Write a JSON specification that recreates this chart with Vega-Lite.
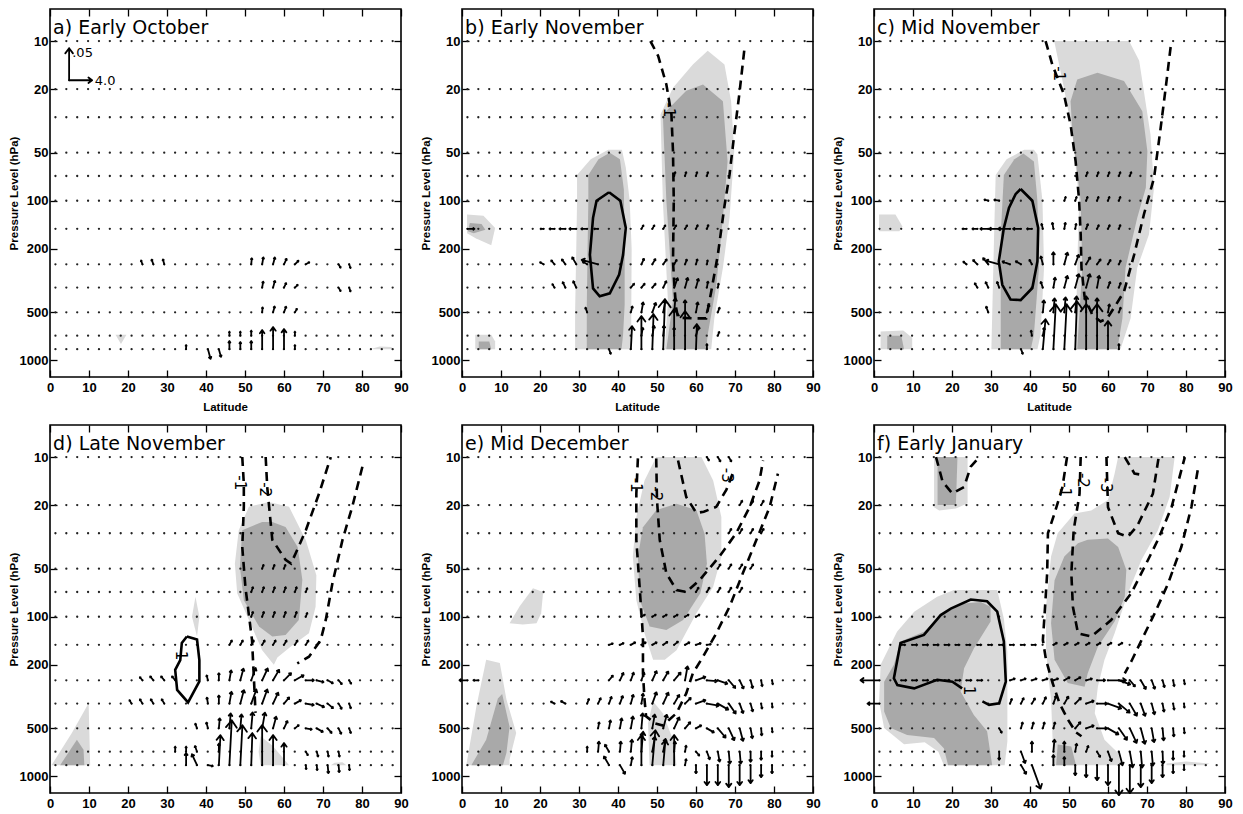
{
"$schema":"https://vega.github.io/schema/vega-lite/v6.json",
"padding":{"left":7,"top":7,"right":2,"bottom":0},
"bounds":"flush",
"spacing":{"row":48,"column":61},
"columns":3,
"data":{"values":[
{"p":"a","lev":10},{"p":"a","lev":20},{"p":"a","lev":30},{"p":"a","lev":50},{"p":"a","lev":70},{"p":"a","lev":100},{"p":"a","lev":150},{"p":"a","lev":250},{"p":"a","lev":350},{"p":"a","lev":500},{"p":"a","lev":700},{"p":"a","lev":850},
{"p":"b","lev":10},{"p":"b","lev":20},{"p":"b","lev":30},{"p":"b","lev":50},{"p":"b","lev":70},{"p":"b","lev":100},{"p":"b","lev":150},{"p":"b","lev":250},{"p":"b","lev":350},{"p":"b","lev":500},{"p":"b","lev":700},{"p":"b","lev":850},
{"p":"c","lev":10},{"p":"c","lev":20},{"p":"c","lev":30},{"p":"c","lev":50},{"p":"c","lev":70},{"p":"c","lev":100},{"p":"c","lev":150},{"p":"c","lev":250},{"p":"c","lev":350},{"p":"c","lev":500},{"p":"c","lev":700},{"p":"c","lev":850},
{"p":"d","lev":10},{"p":"d","lev":20},{"p":"d","lev":30},{"p":"d","lev":50},{"p":"d","lev":70},{"p":"d","lev":100},{"p":"d","lev":150},{"p":"d","lev":250},{"p":"d","lev":350},{"p":"d","lev":500},{"p":"d","lev":700},{"p":"d","lev":850},
{"p":"e","lev":10},{"p":"e","lev":20},{"p":"e","lev":30},{"p":"e","lev":50},{"p":"e","lev":70},{"p":"e","lev":100},{"p":"e","lev":150},{"p":"e","lev":250},{"p":"e","lev":350},{"p":"e","lev":500},{"p":"e","lev":700},{"p":"e","lev":850},
{"p":"f","lev":10},{"p":"f","lev":20},{"p":"f","lev":30},{"p":"f","lev":50},{"p":"f","lev":70},{"p":"f","lev":100},{"p":"f","lev":150},{"p":"f","lev":250},{"p":"f","lev":350},{"p":"f","lev":500},{"p":"f","lev":700},{"p":"f","lev":850},
{"p":"a","title":"a) Early October","x":0.8,"y":9},
{"p":"b","title":"b) Early November","x":0.8,"y":9},
{"p":"c","title":"c) Mid November","x":0.8,"y":9},
{"p":"d","title":"d) Late November","x":0.8,"y":9},
{"p":"e","title":"e) Mid December","x":0.8,"y":9},
{"p":"f","title":"f) Early January","x":0.8,"y":9},
{"p":"a","xl":"Latitude","x":45,"y":1985},
{"p":"b","xl":"Latitude","x":45,"y":1985},
{"p":"c","xl":"Latitude","x":45,"y":1985},
{"p":"a","note":".05","x":5.7,"y":12.6},
{"p":"a","note":"4.0","x":11.5,"y":18.9},
{"p":"b","clab":"-1","x":53,"y":27},
{"p":"c","clab":"-1","x":47.5,"y":16},
{"p":"d","clab":"1","x":33.5,"y":175},
{"p":"d","clab":"-1","x":48.8,"y":14.5},
{"p":"d","clab":"-2","x":55,"y":16},
{"p":"e","clab":"-1","x":44.5,"y":15},
{"p":"e","clab":"-2","x":49.8,"y":17},
{"p":"e","clab":"-3","x":68,"y":13},
{"p":"f","clab":"-1","x":49,"y":16},
{"p":"f","clab":"-2","x":53.5,"y":14},
{"p":"f","clab":"-3","x":59.6,"y":15},
{"p":"f","clab":"1","x":24.4,"y":290},
{"p":"a","g":"a1","s":"l","x":16.8,"y":690},{"p":"a","g":"a1","s":"l","x":19.6,"y":690},{"p":"a","g":"a1","s":"l","x":18.2,"y":790},
{"p":"a","g":"a2","s":"l","x":82.5,"y":845},{"p":"a","g":"a2","s":"l","x":84.5,"y":818},{"p":"a","g":"a2","s":"l","x":87.5,"y":825},{"p":"a","g":"a2","s":"l","x":88,"y":850},{"p":"a","g":"a2","s":"l","x":83,"y":850},
{"p":"b","g":"b1","s":"l","x":1.3,"y":122},{"p":"b","g":"b1","s":"l","x":5.5,"y":124},{"p":"b","g":"b1","s":"l","x":8.5,"y":148},{"p":"b","g":"b1","s":"l","x":7.5,"y":190},{"p":"b","g":"b1","s":"l","x":3.5,"y":172},{"p":"b","g":"b1","s":"l","x":1.3,"y":160},
{"p":"b","g":"b1d","s":"d","x":2,"y":138},{"p":"b","g":"b1d","s":"d","x":5,"y":140},{"p":"b","g":"b1d","s":"d","x":6,"y":152},{"p":"b","g":"b1d","s":"d","x":3,"y":160},{"p":"b","g":"b1d","s":"d","x":1.5,"y":155},
{"p":"b","g":"b2","s":"l","x":3.4,"y":690},{"p":"b","g":"b2","s":"l","x":7.5,"y":690},{"p":"b","g":"b2","s":"l","x":8.5,"y":760},{"p":"b","g":"b2","s":"l","x":8.5,"y":850},{"p":"b","g":"b2","s":"l","x":3.4,"y":850},
{"p":"b","g":"b2d","s":"d","x":4.3,"y":760},{"p":"b","g":"b2d","s":"d","x":7,"y":760},{"p":"b","g":"b2d","s":"d","x":7.5,"y":850},{"p":"b","g":"b2d","s":"d","x":4.3,"y":850},
{"p":"b","g":"b3","s":"l","x":29.5,"y":69},{"p":"b","g":"b3","s":"l","x":33,"y":55},{"p":"b","g":"b3","s":"l","x":37.5,"y":48},{"p":"b","g":"b3","s":"l","x":41,"y":48},{"p":"b","g":"b3","s":"l","x":42,"y":62},{"p":"b","g":"b3","s":"l","x":43,"y":100},{"p":"b","g":"b3","s":"l","x":43.5,"y":200},{"p":"b","g":"b3","s":"l","x":43.4,"y":500},{"p":"b","g":"b3","s":"l","x":43.4,"y":850},{"p":"b","g":"b3","s":"l","x":29,"y":850},{"p":"b","g":"b3","s":"l","x":29,"y":500},{"p":"b","g":"b3","s":"l","x":29.3,"y":200},{"p":"b","g":"b3","s":"l","x":29.5,"y":100},
{"p":"b","g":"b3d","s":"d","x":32.4,"y":69},{"p":"b","g":"b3d","s":"d","x":35,"y":55},{"p":"b","g":"b3d","s":"d","x":37.9,"y":50},{"p":"b","g":"b3d","s":"d","x":40.5,"y":55},{"p":"b","g":"b3d","s":"d","x":41.5,"y":85},{"p":"b","g":"b3d","s":"d","x":41.7,"y":200},{"p":"b","g":"b3d","s":"d","x":41.7,"y":450},{"p":"b","g":"b3d","s":"d","x":41.3,"y":690},{"p":"b","g":"b3d","s":"d","x":40.9,"y":850},{"p":"b","g":"b3d","s":"d","x":32,"y":850},{"p":"b","g":"b3d","s":"d","x":32,"y":450},{"p":"b","g":"b3d","s":"d","x":32.2,"y":200},{"p":"b","g":"b3d","s":"d","x":32.4,"y":100},
{"p":"b","g":"b4","s":"l","x":63,"y":11.5},{"p":"b","g":"b4","s":"l","x":67.3,"y":14},{"p":"b","g":"b4","s":"l","x":69,"y":23.8},{"p":"b","g":"b4","s":"l","x":69.8,"y":49},{"p":"b","g":"b4","s":"l","x":68.6,"y":128},{"p":"b","g":"b4","s":"l","x":66.9,"y":263},{"p":"b","g":"b4","s":"l","x":64.7,"y":545},{"p":"b","g":"b4","s":"l","x":63.9,"y":850},{"p":"b","g":"b4","s":"l","x":52,"y":850},{"p":"b","g":"b4","s":"l","x":52.8,"y":425},{"p":"b","g":"b4","s":"l","x":51.5,"y":100},{"p":"b","g":"b4","s":"l","x":50.9,"y":28.8},{"p":"b","g":"b4","s":"l","x":54.1,"y":19.6},{"p":"b","g":"b4","s":"l","x":59.2,"y":14},
{"p":"b","g":"b4d","s":"d","x":61.8,"y":18.7},{"p":"b","g":"b4d","s":"d","x":66.9,"y":23.8},{"p":"b","g":"b4d","s":"d","x":68.1,"y":56.7},{"p":"b","g":"b4d","s":"d","x":66.9,"y":128},{"p":"b","g":"b4d","s":"d","x":65.2,"y":339},{"p":"b","g":"b4d","s":"d","x":63,"y":690},{"p":"b","g":"b4d","s":"d","x":62.6,"y":850},{"p":"b","g":"b4d","s":"d","x":52.4,"y":850},{"p":"b","g":"b4d","s":"d","x":54.1,"y":425},{"p":"b","g":"b4d","s":"d","x":52.4,"y":100},{"p":"b","g":"b4d","s":"d","x":51.5,"y":28.8},{"p":"b","g":"b4d","s":"d","x":57.5,"y":20.5},
{"p":"c","g":"c1","s":"l","x":1.3,"y":122},{"p":"c","g":"c1","s":"l","x":5.5,"y":122},{"p":"c","g":"c1","s":"l","x":7.3,"y":145},{"p":"c","g":"c1","s":"l","x":6.5,"y":155},{"p":"c","g":"c1","s":"l","x":1.3,"y":155},
{"p":"c","g":"c2","s":"l","x":1.7,"y":660},{"p":"c","g":"c2","s":"l","x":7.5,"y":650},{"p":"c","g":"c2","s":"l","x":9.8,"y":720},{"p":"c","g":"c2","s":"l","x":9.8,"y":850},{"p":"c","g":"c2","s":"l","x":1.7,"y":850},
{"p":"c","g":"c2d","s":"d","x":3.4,"y":700},{"p":"c","g":"c2d","s":"d","x":7,"y":700},{"p":"c","g":"c2d","s":"d","x":7.7,"y":850},{"p":"c","g":"c2d","s":"d","x":3.4,"y":850},
{"p":"c","g":"c3","s":"l","x":31.2,"y":69},{"p":"c","g":"c3","s":"l","x":34,"y":55},{"p":"c","g":"c3","s":"l","x":38.5,"y":48},{"p":"c","g":"c3","s":"l","x":41,"y":48},{"p":"c","g":"c3","s":"l","x":41.9,"y":51.3},{"p":"c","g":"c3","s":"l","x":43.2,"y":100},{"p":"c","g":"c3","s":"l","x":43.6,"y":263},{"p":"c","g":"c3","s":"l","x":42.7,"y":690},{"p":"c","g":"c3","s":"l","x":41.9,"y":850},{"p":"c","g":"c3","s":"l","x":30.1,"y":850},{"p":"c","g":"c3","s":"l","x":30.8,"y":163},
{"p":"c","g":"c3d","s":"d","x":33.3,"y":69},{"p":"c","g":"c3d","s":"d","x":36,"y":55},{"p":"c","g":"c3d","s":"d","x":38.3,"y":50.6},{"p":"c","g":"c3d","s":"d","x":41,"y":56.7},{"p":"c","g":"c3d","s":"d","x":41.9,"y":100},{"p":"c","g":"c3d","s":"d","x":42.3,"y":263},{"p":"c","g":"c3d","s":"d","x":41,"y":690},{"p":"c","g":"c3d","s":"d","x":40.2,"y":850},{"p":"c","g":"c3d","s":"d","x":32.5,"y":850},{"p":"c","g":"c3d","s":"d","x":32.5,"y":163},
{"p":"c","g":"c4","s":"l","x":46.2,"y":10},{"p":"c","g":"c4","s":"l","x":65.4,"y":10},{"p":"c","g":"c4","s":"l","x":68,"y":13.3},{"p":"c","g":"c4","s":"l","x":70.9,"y":38.5},{"p":"c","g":"c4","s":"l","x":71.8,"y":83},{"p":"c","g":"c4","s":"l","x":70.5,"y":163},{"p":"c","g":"c4","s":"l","x":67.5,"y":263},{"p":"c","g":"c4","s":"l","x":65.8,"y":545},{"p":"c","g":"c4","s":"l","x":63.2,"y":850},{"p":"c","g":"c4","s":"l","x":51.7,"y":850},{"p":"c","g":"c4","s":"l","x":52.1,"y":263},{"p":"c","g":"c4","s":"l","x":52.6,"y":100},{"p":"c","g":"c4","s":"l","x":50.9,"y":38.5},{"p":"c","g":"c4","s":"l","x":48.7,"y":19.6},
{"p":"c","g":"c4d","s":"d","x":57.3,"y":15.8},{"p":"c","g":"c4d","s":"d","x":64.1,"y":17.8},{"p":"c","g":"c4d","s":"d","x":68.8,"y":27.5},{"p":"c","g":"c4d","s":"d","x":70.1,"y":49},{"p":"c","g":"c4d","s":"d","x":69.7,"y":83},{"p":"c","g":"c4d","s":"d","x":67.5,"y":128},{"p":"c","g":"c4d","s":"d","x":64.5,"y":263},{"p":"c","g":"c4d","s":"d","x":63.7,"y":545},{"p":"c","g":"c4d","s":"d","x":62.4,"y":850},{"p":"c","g":"c4d","s":"d","x":52.1,"y":850},{"p":"c","g":"c4d","s":"d","x":53.4,"y":263},{"p":"c","g":"c4d","s":"d","x":53,"y":100},{"p":"c","g":"c4d","s":"d","x":50.9,"y":38.5},{"p":"c","g":"c4d","s":"d","x":50.4,"y":23.8},{"p":"c","g":"c4d","s":"d","x":52.1,"y":17.4},
{"p":"d","g":"d1","s":"l","x":0.4,"y":850},{"p":"d","g":"d1","s":"l","x":5.6,"y":535},{"p":"d","g":"d1","s":"l","x":9.9,"y":348},{"p":"d","g":"d1","s":"l","x":10.3,"y":850},
{"p":"d","g":"d1d","s":"d","x":2.6,"y":850},{"p":"d","g":"d1d","s":"d","x":6.9,"y":590},{"p":"d","g":"d1d","s":"d","x":8.6,"y":680},{"p":"d","g":"d1d","s":"d","x":8.8,"y":850},
{"p":"d","g":"d2","s":"l","x":37.3,"y":75},{"p":"d","g":"d2","s":"l","x":38.3,"y":100},{"p":"d","g":"d2","s":"l","x":37.7,"y":133},{"p":"d","g":"d2","s":"l","x":36.4,"y":100},
{"p":"d","g":"d3","s":"l","x":56.1,"y":19.1},{"p":"d","g":"d3","s":"l","x":61.3,"y":20.5},{"p":"d","g":"d3","s":"l","x":65.6,"y":33.2},{"p":"d","g":"d3","s":"l","x":68.3,"y":55},{"p":"d","g":"d3","s":"l","x":68.1,"y":86.6},{"p":"d","g":"d3","s":"l","x":66.4,"y":127},{"p":"d","g":"d3","s":"l","x":62,"y":152},{"p":"d","g":"d3","s":"l","x":58.3,"y":180},{"p":"d","g":"d3","s":"l","x":57.4,"y":200},{"p":"d","g":"d3","s":"l","x":54.4,"y":162},{"p":"d","g":"d3","s":"l","x":51,"y":105},{"p":"d","g":"d3","s":"l","x":48,"y":71.4},{"p":"d","g":"d3","s":"l","x":47.4,"y":46.5},{"p":"d","g":"d3","s":"l","x":48.4,"y":28.7},{"p":"d","g":"d3","s":"l","x":51,"y":20.5},
{"p":"d","g":"d3d","s":"d","x":54.4,"y":25.5},{"p":"d","g":"d3d","s":"d","x":57,"y":25.5},{"p":"d","g":"d3d","s":"d","x":60.4,"y":27.4},{"p":"d","g":"d3d","s":"d","x":63.5,"y":36.6},{"p":"d","g":"d3d","s":"d","x":64.7,"y":58.7},{"p":"d","g":"d3d","s":"d","x":63.8,"y":105},{"p":"d","g":"d3d","s":"d","x":60.4,"y":130},{"p":"d","g":"d3d","s":"d","x":57,"y":133},{"p":"d","g":"d3d","s":"d","x":53.6,"y":115},{"p":"d","g":"d3d","s":"d","x":49.7,"y":78.8},{"p":"d","g":"d3d","s":"d","x":48.7,"y":48.8},{"p":"d","g":"d3d","s":"d","x":49.3,"y":28.7},
{"p":"d","g":"d4","s":"l","x":54,"y":560},{"p":"d","g":"d4","s":"l","x":57,"y":640},{"p":"d","g":"d4","s":"l","x":61.3,"y":850},{"p":"d","g":"d4","s":"l","x":54,"y":850},{"p":"d","g":"d4","s":"l","x":53.5,"y":700},
{"p":"d","g":"d5","s":"l","x":73,"y":820},{"p":"d","g":"d5","s":"l","x":75,"y":815},{"p":"d","g":"d5","s":"l","x":76,"y":850},{"p":"d","g":"d5","s":"l","x":72,"y":850},
{"p":"e","g":"e1","s":"l","x":12.2,"y":110},{"p":"e","g":"e1","s":"l","x":14.8,"y":86},{"p":"e","g":"e1","s":"l","x":18.2,"y":66.4},{"p":"e","g":"e1","s":"l","x":20.8,"y":70},{"p":"e","g":"e1","s":"l","x":20.3,"y":95},{"p":"e","g":"e1","s":"l","x":19.1,"y":110},{"p":"e","g":"e1","s":"l","x":15.6,"y":112},
{"p":"e","g":"e2","s":"l","x":1.1,"y":850},{"p":"e","g":"e2","s":"l","x":3.7,"y":363},{"p":"e","g":"e2","s":"l","x":6.2,"y":186},{"p":"e","g":"e2","s":"l","x":9.7,"y":195},{"p":"e","g":"e2","s":"l","x":11.4,"y":330},{"p":"e","g":"e2","s":"l","x":13.9,"y":534},{"p":"e","g":"e2","s":"l","x":12.2,"y":783},{"p":"e","g":"e2","s":"l","x":12.2,"y":850},
{"p":"e","g":"e2d","s":"d","x":2.4,"y":850},{"p":"e","g":"e2d","s":"d","x":6.2,"y":590},{"p":"e","g":"e2d","s":"d","x":9.2,"y":325},{"p":"e","g":"e2d","s":"d","x":10.3,"y":305},{"p":"e","g":"e2d","s":"d","x":12.2,"y":488},{"p":"e","g":"e2d","s":"d","x":11.4,"y":712},{"p":"e","g":"e2d","s":"d","x":10.5,"y":850},
{"p":"e","g":"e3","s":"l","x":49.8,"y":10},{"p":"e","g":"e3","s":"l","x":61.4,"y":10},{"p":"e","g":"e3","s":"l","x":64.4,"y":14},{"p":"e","g":"e3","s":"l","x":66.5,"y":23.7},{"p":"e","g":"e3","s":"l","x":66.5,"y":42},{"p":"e","g":"e3","s":"l","x":64.4,"y":65},{"p":"e","g":"e3","s":"l","x":60.1,"y":95},{"p":"e","g":"e3","s":"l","x":55,"y":162},{"p":"e","g":"e3","s":"l","x":52,"y":186},{"p":"e","g":"e3","s":"l","x":49,"y":186},{"p":"e","g":"e3","s":"l","x":46.8,"y":127},{"p":"e","g":"e3","s":"l","x":44.7,"y":78.8},{"p":"e","g":"e3","s":"l","x":43.8,"y":42},{"p":"e","g":"e3","s":"l","x":44.7,"y":23.7},{"p":"e","g":"e3","s":"l","x":46.8,"y":14},
{"p":"e","g":"e3d","s":"d","x":55,"y":19.6},{"p":"e","g":"e3d","s":"d","x":60.1,"y":21.5},{"p":"e","g":"e3d","s":"d","x":62.2,"y":30.2},{"p":"e","g":"e3d","s":"d","x":62.8,"y":46.5},{"p":"e","g":"e3d","s":"d","x":61.1,"y":71.4},{"p":"e","g":"e3d","s":"d","x":56.7,"y":105},{"p":"e","g":"e3d","s":"d","x":52.4,"y":121},{"p":"e","g":"e3d","s":"d","x":48.1,"y":115},{"p":"e","g":"e3d","s":"d","x":45.6,"y":78.8},{"p":"e","g":"e3d","s":"d","x":45.1,"y":42},{"p":"e","g":"e3d","s":"d","x":46.4,"y":27.5},{"p":"e","g":"e3d","s":"d","x":49.8,"y":21.5},
{"p":"e","g":"e4","s":"l","x":48.1,"y":850},{"p":"e","g":"e4","s":"l","x":47.7,"y":464},{"p":"e","g":"e4","s":"l","x":49,"y":340},{"p":"e","g":"e4","s":"l","x":51.5,"y":402},{"p":"e","g":"e4","s":"l","x":54.1,"y":590},{"p":"e","g":"e4","s":"l","x":55,"y":850},
{"p":"f","g":"f1","s":"l","x":15.4,"y":10},{"p":"f","g":"f1","s":"l","x":24,"y":10},{"p":"f","g":"f1","s":"l","x":24,"y":19.5},{"p":"f","g":"f1","s":"l","x":21,"y":21},{"p":"f","g":"f1","s":"l","x":16.7,"y":21.6},{"p":"f","g":"f1","s":"l","x":15.4,"y":20.6},
{"p":"f","g":"f1d","s":"d","x":16.3,"y":10},{"p":"f","g":"f1d","s":"d","x":21.4,"y":10},{"p":"f","g":"f1d","s":"d","x":21,"y":20},{"p":"f","g":"f1d","s":"d","x":16.3,"y":20},
{"p":"f","g":"f2","s":"l","x":16.2,"y":75},{"p":"f","g":"f2","s":"l","x":20.5,"y":68},{"p":"f","g":"f2","s":"l","x":31.6,"y":68},{"p":"f","g":"f2","s":"l","x":33.3,"y":103},{"p":"f","g":"f2","s":"l","x":34.2,"y":166},{"p":"f","g":"f2","s":"l","x":34.2,"y":604},{"p":"f","g":"f2","s":"l","x":33.5,"y":850},{"p":"f","g":"f2","s":"l","x":17.9,"y":850},{"p":"f","g":"f2","s":"l","x":16.5,"y":700},{"p":"f","g":"f2","s":"l","x":13,"y":610},{"p":"f","g":"f2","s":"l","x":7.7,"y":629},{"p":"f","g":"f2","s":"l","x":2.6,"y":497},{"p":"f","g":"f2","s":"l","x":1.3,"y":339},{"p":"f","g":"f2","s":"l","x":1.7,"y":200},{"p":"f","g":"f2","s":"l","x":5.9,"y":124},{"p":"f","g":"f2","s":"l","x":10.3,"y":93},
{"p":"f","g":"f2d","s":"d","x":6.8,"y":143},{"p":"f","g":"f2d","s":"d","x":12.8,"y":124},{"p":"f","g":"f2d","s":"d","x":17.1,"y":97.6},{"p":"f","g":"f2d","s":"d","x":23.1,"y":82.6},{"p":"f","g":"f2d","s":"d","x":27.4,"y":80.8},{"p":"f","g":"f2d","s":"d","x":29.9,"y":86.6},{"p":"f","g":"f2d","s":"d","x":29.9,"y":107},{"p":"f","g":"f2d","s":"d","x":25.6,"y":158},{"p":"f","g":"f2d","s":"d","x":23.1,"y":210},{"p":"f","g":"f2d","s":"d","x":22.2,"y":294},{"p":"f","g":"f2d","s":"d","x":25.6,"y":412},{"p":"f","g":"f2d","s":"d","x":29,"y":522},{"p":"f","g":"f2d","s":"d","x":30.3,"y":850},{"p":"f","g":"f2d","s":"d","x":19,"y":850},{"p":"f","g":"f2d","s":"d","x":17.9,"y":667},{"p":"f","g":"f2d","s":"d","x":15.4,"y":575},{"p":"f","g":"f2d","s":"d","x":8.5,"y":550},{"p":"f","g":"f2d","s":"d","x":4.3,"y":497},{"p":"f","g":"f2d","s":"d","x":2.6,"y":392},{"p":"f","g":"f2d","s":"d","x":2.6,"y":255},{"p":"f","g":"f2d","s":"d","x":5.1,"y":200},
{"p":"f","g":"f3","s":"l","x":62.6,"y":10},{"p":"f","g":"f3","s":"l","x":77.1,"y":10},{"p":"f","g":"f3","s":"l","x":75.8,"y":17.8},{"p":"f","g":"f3","s":"l","x":72.8,"y":28.7},{"p":"f","g":"f3","s":"l","x":68.6,"y":44},{"p":"f","g":"f3","s":"l","x":65.1,"y":71.4},{"p":"f","g":"f3","s":"l","x":61.7,"y":127},{"p":"f","g":"f3","s":"l","x":59.1,"y":186},{"p":"f","g":"f3","s":"l","x":57.4,"y":274},{"p":"f","g":"f3","s":"l","x":56.6,"y":402},{"p":"f","g":"f3","s":"l","x":59.1,"y":590},{"p":"f","g":"f3","s":"l","x":62.6,"y":713},{"p":"f","g":"f3","s":"l","x":63.4,"y":850},{"p":"f","g":"f3","s":"l","x":45.8,"y":850},{"p":"f","g":"f3","s":"l","x":45.8,"y":590},{"p":"f","g":"f3","s":"l","x":45.4,"y":330},{"p":"f","g":"f3","s":"l","x":44.6,"y":226},{"p":"f","g":"f3","s":"l","x":44.1,"y":154},{"p":"f","g":"f3","s":"l","x":44.1,"y":86.6},{"p":"f","g":"f3","s":"l","x":45.4,"y":42},{"p":"f","g":"f3","s":"l","x":47.1,"y":30},{"p":"f","g":"f3","s":"l","x":51.4,"y":22.6},{"p":"f","g":"f3","s":"l","x":55.7,"y":21.6},{"p":"f","g":"f3","s":"l","x":60,"y":18.6},{"p":"f","g":"f3","s":"l","x":61.7,"y":12.7},
{"p":"f","g":"f3d","s":"d","x":52.3,"y":34.6},{"p":"f","g":"f3d","s":"d","x":54.8,"y":33},{"p":"f","g":"f3d","s":"d","x":60,"y":32.4},{"p":"f","g":"f3d","s":"d","x":62.6,"y":36.6},{"p":"f","g":"f3d","s":"d","x":64.7,"y":51},{"p":"f","g":"f3d","s":"d","x":64.3,"y":75},{"p":"f","g":"f3d","s":"d","x":61.7,"y":107},{"p":"f","g":"f3d","s":"d","x":57.4,"y":154},{"p":"f","g":"f3d","s":"d","x":54.8,"y":226},{"p":"f","g":"f3d","s":"d","x":54,"y":274},{"p":"f","g":"f3d","s":"d","x":49.7,"y":260},{"p":"f","g":"f3d","s":"d","x":46.3,"y":186},{"p":"f","g":"f3d","s":"d","x":45.4,"y":110},{"p":"f","g":"f3d","s":"d","x":46.3,"y":59},{"p":"f","g":"f3d","s":"d","x":48.8,"y":42},
{"p":"f","g":"f4d","s":"d","x":46.7,"y":850},{"p":"f","g":"f4d","s":"d","x":47.1,"y":630},{"p":"f","g":"f4d","s":"d","x":50.6,"y":650},{"p":"f","g":"f4d","s":"d","x":51.8,"y":850},
{"p":"f","g":"f5","s":"l","x":75,"y":830},{"p":"f","g":"f5","s":"l","x":80,"y":805},{"p":"f","g":"f5","s":"l","x":86,"y":830},{"p":"f","g":"f5","s":"l","x":85,"y":850},{"p":"f","g":"f5","s":"l","x":75,"y":850},
{"p":"b","g":"bS","c":"s","x":37.7,"y":88.5},{"p":"b","g":"bS","c":"s","x":40.6,"y":100},{"p":"b","g":"bS","c":"s","x":42,"y":148},{"p":"b","g":"bS","c":"s","x":41.3,"y":218},{"p":"b","g":"bS","c":"s","x":40.3,"y":290},{"p":"b","g":"bS","c":"s","x":37.9,"y":380},{"p":"b","g":"bS","c":"s","x":35.3,"y":397},{"p":"b","g":"bS","c":"s","x":33.6,"y":354},{"p":"b","g":"bS","c":"s","x":32.8,"y":218},{"p":"b","g":"bS","c":"s","x":33.6,"y":128},{"p":"b","g":"bS","c":"s","x":34.5,"y":100},{"p":"b","g":"bS","c":"s","x":37.7,"y":88.5},
{"p":"b","g":"bD","c":"d","x":48.3,"y":10},{"p":"b","g":"bD","c":"d","x":50.3,"y":12.4},{"p":"b","g":"bD","c":"d","x":52.4,"y":18.7},{"p":"b","g":"bD","c":"d","x":53.7,"y":28.8},{"p":"b","g":"bD","c":"d","x":54.1,"y":49},{"p":"b","g":"bD","c":"d","x":54.3,"y":100},{"p":"b","g":"bD","c":"d","x":54.1,"y":240},{"p":"b","g":"bD","c":"d","x":54.5,"y":352},{"p":"b","g":"bD","c":"d","x":54.9,"y":468},{"p":"b","g":"bD","c":"d","x":55.4,"y":540},{"p":"b","g":"bD","c":"d","x":59,"y":545},{"p":"b","g":"bD","c":"d","x":62.6,"y":545},{"p":"b","g":"bD","c":"d","x":63.9,"y":371},{"p":"b","g":"bD","c":"d","x":65.6,"y":218},{"p":"b","g":"bD","c":"d","x":67.3,"y":108},{"p":"b","g":"bD","c":"d","x":68.6,"y":68.5},{"p":"b","g":"bD","c":"d","x":69.8,"y":38.5},{"p":"b","g":"bD","c":"d","x":71.1,"y":21.6},{"p":"b","g":"bD","c":"d","x":72.4,"y":11.3},
{"p":"c","g":"cS","c":"s","x":37.6,"y":84.4},{"p":"c","g":"cS","c":"s","x":40.6,"y":100},{"p":"c","g":"cS","c":"s","x":42.1,"y":148},{"p":"c","g":"cS","c":"s","x":41.9,"y":240},{"p":"c","g":"cS","c":"s","x":40.6,"y":352},{"p":"c","g":"cS","c":"s","x":37.6,"y":419},{"p":"c","g":"cS","c":"s","x":35,"y":415},{"p":"c","g":"cS","c":"s","x":32.9,"y":336},{"p":"c","g":"cS","c":"s","x":32,"y":240},{"p":"c","g":"cS","c":"s","x":33.3,"y":148},{"p":"c","g":"cS","c":"s","x":34.6,"y":111},{"p":"c","g":"cS","c":"s","x":36.3,"y":91},{"p":"c","g":"cS","c":"s","x":37.6,"y":84.4},
{"p":"c","g":"cD","c":"d","x":44,"y":10},{"p":"c","g":"cD","c":"d","x":45.7,"y":14},{"p":"c","g":"cD","c":"d","x":48.7,"y":21.6},{"p":"c","g":"cD","c":"d","x":50.4,"y":33.3},{"p":"c","g":"cD","c":"d","x":51.7,"y":56.7},{"p":"c","g":"cD","c":"d","x":52.6,"y":100},{"p":"c","g":"cD","c":"d","x":53,"y":163},{"p":"c","g":"cD","c":"d","x":53.2,"y":263},{"p":"c","g":"cD","c":"d","x":54,"y":400},{"p":"c","g":"cD","c":"d","x":56,"y":520},{"p":"c","g":"cD","c":"d","x":58.1,"y":570},{"p":"c","g":"cD","c":"d","x":59.8,"y":545},{"p":"c","g":"cD","c":"d","x":62,"y":450},{"p":"c","g":"cD","c":"d","x":64.1,"y":371},{"p":"c","g":"cD","c":"d","x":66.7,"y":218},{"p":"c","g":"cD","c":"d","x":69.2,"y":122},{"p":"c","g":"cD","c":"d","x":71.8,"y":72},{"p":"c","g":"cD","c":"d","x":73.5,"y":35},{"p":"c","g":"cD","c":"d","x":74.8,"y":19.6},{"p":"c","g":"cD","c":"d","x":76.1,"y":10.7},
{"p":"d","g":"dS","c":"s","x":35.1,"y":133},{"p":"d","g":"dS","c":"s","x":37.7,"y":139},{"p":"d","g":"dS","c":"s","x":38.3,"y":187},{"p":"d","g":"dS","c":"s","x":38.3,"y":254},{"p":"d","g":"dS","c":"s","x":35.4,"y":344},{"p":"d","g":"dS","c":"s","x":32.6,"y":287},{"p":"d","g":"dS","c":"s","x":32.1,"y":215},{"p":"d","g":"dS","c":"s","x":33.4,"y":187},{"p":"d","g":"dS","c":"s","x":33.8,"y":146},{"p":"d","g":"dS","c":"s","x":35.1,"y":133},
{"p":"d","g":"dD1","c":"d","x":49.3,"y":10},{"p":"d","g":"dD1","c":"d","x":49.7,"y":14.7},{"p":"d","g":"dD1","c":"d","x":49.7,"y":20.5},{"p":"d","g":"dD1","c":"d","x":49.3,"y":36.6},{"p":"d","g":"dD1","c":"d","x":50.1,"y":65},{"p":"d","g":"dD1","c":"d","x":51.8,"y":140},{"p":"d","g":"dD1","c":"d","x":52.3,"y":248},{"p":"d","g":"dD1","c":"d","x":52.7,"y":400},
{"p":"d","g":"dD2","c":"d","x":55.3,"y":10},{"p":"d","g":"dD2","c":"d","x":55.7,"y":15.4},{"p":"d","g":"dD2","c":"d","x":57,"y":33},{"p":"d","g":"dD2","c":"d","x":60.4,"y":44},{"p":"d","g":"dD2","c":"d","x":61.8,"y":46.5},{"p":"d","g":"dD2","c":"d","x":63,"y":40},{"p":"d","g":"dD2","c":"d","x":65.6,"y":28.7},{"p":"d","g":"dD2","c":"d","x":69,"y":16.9},{"p":"d","g":"dD2","c":"d","x":72,"y":10},
{"p":"d","g":"dD3","c":"d","x":80.1,"y":11.5},{"p":"d","g":"dD3","c":"d","x":77.5,"y":20.5},{"p":"d","g":"dD3","c":"d","x":75,"y":33},{"p":"d","g":"dD3","c":"d","x":72.4,"y":62},{"p":"d","g":"dD3","c":"d","x":70.7,"y":105},{"p":"d","g":"dD3","c":"d","x":69.4,"y":140},{"p":"d","g":"dD3","c":"d","x":66.4,"y":178},{"p":"d","g":"dD3","c":"d","x":63.4,"y":196},
{"p":"e","g":"eD1","c":"d","x":45.1,"y":10.2},{"p":"e","g":"eD1","c":"d","x":44.7,"y":17},{"p":"e","g":"eD1","c":"d","x":44.7,"y":33},{"p":"e","g":"eD1","c":"d","x":45.6,"y":68},{"p":"e","g":"eD1","c":"d","x":46.4,"y":133},{"p":"e","g":"eD1","c":"d","x":46.4,"y":226},{"p":"e","g":"eD1","c":"d","x":46.8,"y":330},{"p":"e","g":"eD1","c":"d","x":47.2,"y":420},{"p":"e","g":"eD1","c":"d","x":49.4,"y":464},{"p":"e","g":"eD1","c":"d","x":51.5,"y":480},{"p":"e","g":"eD1","c":"d","x":53.2,"y":440},{"p":"e","g":"eD1","c":"d","x":55,"y":402},{"p":"e","g":"eD1","c":"d","x":57.5,"y":302},{"p":"e","g":"eD1","c":"d","x":59.2,"y":226},{"p":"e","g":"eD1","c":"d","x":61.8,"y":178},{"p":"e","g":"eD1","c":"d","x":65.2,"y":127},{"p":"e","g":"eD1","c":"d","x":68.6,"y":86.6},{"p":"e","g":"eD1","c":"d","x":72,"y":53.5},{"p":"e","g":"eD1","c":"d","x":75.5,"y":33},{"p":"e","g":"eD1","c":"d","x":78.9,"y":20.5},{"p":"e","g":"eD1","c":"d","x":81,"y":12.7},
{"p":"e","g":"eD2","c":"d","x":49.8,"y":10.2},{"p":"e","g":"eD2","c":"d","x":50,"y":18.6},{"p":"e","g":"eD2","c":"d","x":50.7,"y":33},{"p":"e","g":"eD2","c":"d","x":52.4,"y":53.5},{"p":"e","g":"eD2","c":"d","x":55,"y":68},{"p":"e","g":"eD2","c":"d","x":57.5,"y":70},{"p":"e","g":"eD2","c":"d","x":60.9,"y":59},{"p":"e","g":"eD2","c":"d","x":66,"y":42},{"p":"e","g":"eD2","c":"d","x":70.3,"y":30},{"p":"e","g":"eD2","c":"d","x":73.8,"y":20.5},{"p":"e","g":"eD2","c":"d","x":76.3,"y":14},{"p":"e","g":"eD2","c":"d","x":77.2,"y":10.5},
{"p":"e","g":"eD3","c":"d","x":55.4,"y":10.5},{"p":"e","g":"eD3","c":"d","x":57.5,"y":17.8},{"p":"e","g":"eD3","c":"d","x":60.1,"y":22.4},{"p":"e","g":"eD3","c":"d","x":62,"y":22},{"p":"e","g":"eD3","c":"d","x":65.2,"y":20.5},{"p":"e","g":"eD3","c":"d","x":67.8,"y":16},{"p":"e","g":"eD3","c":"d","x":69.9,"y":11.8},
{"p":"f","g":"fS","c":"s","x":22.6,"y":281},{"p":"f","g":"fS","c":"s","x":20.1,"y":255},{"p":"f","g":"fS","c":"s","x":16.2,"y":248},{"p":"f","g":"fS","c":"s","x":10.3,"y":281},{"p":"f","g":"fS","c":"s","x":6,"y":268},{"p":"f","g":"fS","c":"s","x":5.1,"y":243},{"p":"f","g":"fS","c":"s","x":6.8,"y":146},{"p":"f","g":"fS","c":"s","x":12.8,"y":130},{"p":"f","g":"fS","c":"s","x":17.1,"y":97.6},{"p":"f","g":"fS","c":"s","x":19.7,"y":89},{"p":"f","g":"fS","c":"s","x":24.8,"y":78},{"p":"f","g":"fS","c":"s","x":29,"y":80},{"p":"f","g":"fS","c":"s","x":31.6,"y":93},{"p":"f","g":"fS","c":"s","x":33.3,"y":143},{"p":"f","g":"fS","c":"s","x":33.8,"y":255},{"p":"f","g":"fS","c":"s","x":32.1,"y":348},{"p":"f","g":"fS","c":"s","x":29.5,"y":356},{"p":"f","g":"fS","c":"s","x":27.8,"y":339},
{"p":"f","g":"fD1","c":"d","x":15.9,"y":10},{"p":"f","g":"fD1","c":"d","x":17.6,"y":14.3},{"p":"f","g":"fD1","c":"d","x":20.1,"y":16.9},{"p":"f","g":"fD1","c":"d","x":23.1,"y":15.4},{"p":"f","g":"fD1","c":"d","x":24.8,"y":11.5},{"p":"f","g":"fD1","c":"d","x":27,"y":10},
{"p":"f","g":"fD2","c":"d","x":49.5,"y":10},{"p":"f","g":"fD2","c":"d","x":48.3,"y":15.5},{"p":"f","g":"fD2","c":"d","x":46.3,"y":22.5},{"p":"f","g":"fD2","c":"d","x":44.6,"y":30},{"p":"f","g":"fD2","c":"d","x":44.4,"y":53.5},{"p":"f","g":"fD2","c":"d","x":43.7,"y":100},{"p":"f","g":"fD2","c":"d","x":43.3,"y":140},{"p":"f","g":"fD2","c":"d","x":44.1,"y":186},{"p":"f","g":"fD2","c":"d","x":45.8,"y":260},{"p":"f","g":"fD2","c":"d","x":47.6,"y":350},{"p":"f","g":"fD2","c":"d","x":49.7,"y":440},{"p":"f","g":"fD2","c":"d","x":51.8,"y":530},{"p":"f","g":"fD2","c":"d","x":53.2,"y":560},
{"p":"f","g":"fD3","c":"d","x":83,"y":12.1},{"p":"f","g":"fD3","c":"d","x":81.4,"y":20.5},{"p":"f","g":"fD3","c":"d","x":78.8,"y":36.6},{"p":"f","g":"fD3","c":"d","x":75.4,"y":62},{"p":"f","g":"fD3","c":"d","x":72,"y":95},{"p":"f","g":"fD3","c":"d","x":68.6,"y":140},{"p":"f","g":"fD3","c":"d","x":66,"y":190},{"p":"f","g":"fD3","c":"d","x":64.3,"y":226},
{"p":"f","g":"fD4","c":"d","x":53,"y":10},{"p":"f","g":"fD4","c":"d","x":52.7,"y":17},{"p":"f","g":"fD4","c":"d","x":51.2,"y":28.7},{"p":"f","g":"fD4","c":"d","x":50.6,"y":53.5},{"p":"f","g":"fD4","c":"d","x":51,"y":86.6},{"p":"f","g":"fD4","c":"d","x":52.3,"y":127},{"p":"f","g":"fD4","c":"d","x":55.7,"y":133},{"p":"f","g":"fD4","c":"d","x":60.8,"y":105},{"p":"f","g":"fD4","c":"d","x":66,"y":71},{"p":"f","g":"fD4","c":"d","x":69.4,"y":48.6},{"p":"f","g":"fD4","c":"d","x":72.8,"y":33},{"p":"f","g":"fD4","c":"d","x":76.3,"y":20.6},{"p":"f","g":"fD4","c":"d","x":79.7,"y":10},
{"p":"f","g":"fD5","c":"d","x":59.6,"y":10},{"p":"f","g":"fD5","c":"d","x":60,"y":20.6},{"p":"f","g":"fD5","c":"d","x":62.6,"y":30},{"p":"f","g":"fD5","c":"d","x":65.1,"y":31.6},{"p":"f","g":"fD5","c":"d","x":67.5,"y":27},{"p":"f","g":"fD5","c":"d","x":71.5,"y":17},{"p":"f","g":"fD5","c":"d","x":73,"y":10},
{"p":"f","g":"fD6","c":"d","x":64.3,"y":10},{"p":"f","g":"fD6","c":"d","x":66.8,"y":12.7},{"p":"f","g":"fD6","c":"d","x":69.4,"y":13},
{"p":"a","x":4.9,"y":17.6,"a":0,"m":32},{"p":"a","x":4.9,"y":17.6,"a":90,"m":23},
{"p":"a","x":23.7,"y":250,"a":340,"m":4},{"p":"a","x":26.5,"y":250,"a":340,"m":5},{"p":"a","x":29.3,"y":250,"a":345,"m":5},{"p":"a","x":51.6,"y":250,"a":5,"m":6},{"p":"a","x":54.4,"y":250,"a":10,"m":7},{"p":"a","x":57.2,"y":250,"a":15,"m":7},{"p":"a","x":60,"y":250,"a":25,"m":6},{"p":"a","x":62.8,"y":250,"a":45,"m":5},{"p":"a","x":65.6,"y":250,"a":60,"m":4},{"p":"a","x":74,"y":250,"a":150,"m":4},{"p":"a","x":76.7,"y":250,"a":160,"m":4},
{"p":"a","x":54.4,"y":350,"a":10,"m":6},{"p":"a","x":57.2,"y":350,"a":15,"m":7},{"p":"a","x":60,"y":350,"a":25,"m":5},{"p":"a","x":62.8,"y":350,"a":45,"m":4},{"p":"a","x":74,"y":350,"a":150,"m":4},{"p":"a","x":76.7,"y":350,"a":160,"m":4},
{"p":"a","x":54.4,"y":500,"a":5,"m":5},{"p":"a","x":57.2,"y":500,"a":15,"m":6},{"p":"a","x":60,"y":500,"a":20,"m":6},{"p":"a","x":62.8,"y":500,"a":30,"m":4},
{"p":"a","x":46,"y":700,"a":0,"m":4},{"p":"a","x":48.8,"y":700,"a":0,"m":4},{"p":"a","x":51.6,"y":700,"a":0,"m":5},{"p":"a","x":62.8,"y":700,"a":0,"m":4},
{"p":"a","x":34.9,"y":850,"a":0,"m":4},{"p":"a","x":40.5,"y":850,"a":165,"m":10},{"p":"a","x":43.3,"y":850,"a":165,"m":8},{"p":"a","x":46,"y":850,"a":0,"m":8},{"p":"a","x":48.8,"y":850,"a":0,"m":7},{"p":"a","x":51.6,"y":850,"a":0,"m":8},{"p":"a","x":54.4,"y":850,"a":0,"m":19},{"p":"a","x":57.2,"y":850,"a":0,"m":22},{"p":"a","x":60,"y":850,"a":0,"m":20},{"p":"a","x":62.8,"y":850,"a":0,"m":4},
{"p":"b","x":1.4,"y":150,"a":90,"m":7},{"p":"b","x":20.9,"y":150,"a":270,"m":3},{"p":"b","x":23.7,"y":150,"a":270,"m":5},{"p":"b","x":26.5,"y":150,"a":270,"m":6},{"p":"b","x":29.3,"y":150,"a":270,"m":7},{"p":"b","x":32.1,"y":150,"a":270,"m":6},{"p":"b","x":34.9,"y":150,"a":270,"m":4},{"p":"b","x":46,"y":150,"a":30,"m":4},{"p":"b","x":48.8,"y":150,"a":30,"m":4},{"p":"b","x":51.6,"y":150,"a":30,"m":4},{"p":"b","x":54.4,"y":150,"a":30,"m":4},{"p":"b","x":57.2,"y":150,"a":30,"m":4},{"p":"b","x":60,"y":150,"a":25,"m":4},{"p":"b","x":62.8,"y":150,"a":20,"m":4},
{"p":"b","x":54.4,"y":70,"a":15,"m":4},{"p":"b","x":57.2,"y":70,"a":15,"m":4},{"p":"b","x":60,"y":70,"a":15,"m":4},{"p":"b","x":62.8,"y":70,"a":15,"m":4},
{"p":"b","x":20.9,"y":250,"a":300,"m":4},{"p":"b","x":23.7,"y":250,"a":320,"m":5},{"p":"b","x":26.5,"y":250,"a":325,"m":6},{"p":"b","x":29.3,"y":250,"a":330,"m":8},{"p":"b","x":32.1,"y":250,"a":300,"m":5},{"p":"b","x":34.9,"y":250,"a":285,"m":17},{"p":"b","x":46,"y":250,"a":25,"m":6},{"p":"b","x":48.8,"y":250,"a":30,"m":6},{"p":"b","x":51.6,"y":250,"a":35,"m":6},{"p":"b","x":54.4,"y":250,"a":30,"m":5},{"p":"b","x":57.2,"y":250,"a":20,"m":5},{"p":"b","x":60,"y":250,"a":15,"m":5},{"p":"b","x":62.8,"y":250,"a":10,"m":4},
{"p":"b","x":23.7,"y":350,"a":330,"m":4},{"p":"b","x":26.5,"y":350,"a":335,"m":6},{"p":"b","x":29.3,"y":350,"a":335,"m":7},{"p":"b","x":43.3,"y":350,"a":40,"m":5},{"p":"b","x":46,"y":350,"a":40,"m":5},{"p":"b","x":48.8,"y":350,"a":40,"m":5},{"p":"b","x":51.6,"y":350,"a":25,"m":7},{"p":"b","x":54.4,"y":350,"a":20,"m":10},{"p":"b","x":57.2,"y":350,"a":15,"m":10},{"p":"b","x":60,"y":350,"a":15,"m":9},{"p":"b","x":62.8,"y":350,"a":10,"m":6},{"p":"b","x":65.6,"y":350,"a":10,"m":4},
{"p":"b","x":32.1,"y":500,"a":340,"m":5},{"p":"b","x":43.3,"y":500,"a":15,"m":6},{"p":"b","x":46,"y":500,"a":10,"m":10},{"p":"b","x":48.8,"y":500,"a":20,"m":10},{"p":"b","x":51.6,"y":500,"a":10,"m":12},{"p":"b","x":54.4,"y":500,"a":5,"m":14},{"p":"b","x":57.2,"y":500,"a":0,"m":12},{"p":"b","x":60,"y":500,"a":10,"m":10},{"p":"b","x":62.8,"y":500,"a":15,"m":8},{"p":"b","x":65.6,"y":500,"a":20,"m":5},
{"p":"b","x":46,"y":700,"a":10,"m":8},{"p":"b","x":48.8,"y":700,"a":10,"m":10},{"p":"b","x":51.6,"y":700,"a":5,"m":10},{"p":"b","x":54.4,"y":700,"a":0,"m":8},{"p":"b","x":60,"y":700,"a":15,"m":8},{"p":"b","x":65.6,"y":700,"a":20,"m":4},
{"p":"b","x":37.7,"y":850,"a":160,"m":5},{"p":"b","x":43.3,"y":850,"a":3,"m":23},{"p":"b","x":46,"y":850,"a":0,"m":33},{"p":"b","x":48.8,"y":850,"a":2,"m":35},{"p":"b","x":51.6,"y":850,"a":2,"m":50},{"p":"b","x":54.4,"y":850,"a":0,"m":40},{"p":"b","x":57.2,"y":850,"a":0,"m":38},{"p":"b","x":60,"y":850,"a":2,"m":25},{"p":"b","x":62.8,"y":850,"a":0,"m":5},
{"p":"c","x":23.7,"y":150,"a":270,"m":4},{"p":"c","x":26.5,"y":150,"a":270,"m":5},{"p":"c","x":29.3,"y":150,"a":270,"m":8},{"p":"c","x":32.1,"y":150,"a":270,"m":10},{"p":"c","x":34.9,"y":150,"a":270,"m":12},{"p":"c","x":37.7,"y":150,"a":270,"m":8},{"p":"c","x":40.5,"y":150,"a":270,"m":5},{"p":"c","x":43.3,"y":150,"a":345,"m":5},{"p":"c","x":46,"y":150,"a":350,"m":6},{"p":"c","x":48.8,"y":150,"a":10,"m":6},{"p":"c","x":51.6,"y":150,"a":10,"m":5},{"p":"c","x":54.4,"y":150,"a":20,"m":5},{"p":"c","x":57.2,"y":150,"a":25,"m":4},{"p":"c","x":60,"y":150,"a":25,"m":4},{"p":"c","x":62.8,"y":150,"a":20,"m":4},
{"p":"c","x":29.3,"y":100,"a":285,"m":4},{"p":"c","x":32.1,"y":100,"a":280,"m":5},{"p":"c","x":48.8,"y":100,"a":20,"m":4},{"p":"c","x":51.6,"y":100,"a":20,"m":4},{"p":"c","x":54.4,"y":100,"a":20,"m":4},{"p":"c","x":57.2,"y":100,"a":20,"m":4},{"p":"c","x":60,"y":100,"a":20,"m":4},{"p":"c","x":62.8,"y":100,"a":20,"m":4},
{"p":"c","x":54.4,"y":70,"a":20,"m":4},{"p":"c","x":57.2,"y":70,"a":20,"m":4},{"p":"c","x":60,"y":70,"a":20,"m":4},{"p":"c","x":62.8,"y":70,"a":20,"m":4},{"p":"c","x":65.6,"y":70,"a":20,"m":4},
{"p":"c","x":23.7,"y":250,"a":310,"m":4},{"p":"c","x":26.5,"y":250,"a":315,"m":6},{"p":"c","x":29.3,"y":250,"a":320,"m":8},{"p":"c","x":32.1,"y":250,"a":285,"m":14},{"p":"c","x":34.9,"y":250,"a":290,"m":8},{"p":"c","x":37.7,"y":250,"a":300,"m":6},{"p":"c","x":40.5,"y":250,"a":330,"m":5},{"p":"c","x":43.3,"y":250,"a":345,"m":8},{"p":"c","x":46,"y":250,"a":0,"m":12},{"p":"c","x":48.8,"y":250,"a":15,"m":12},{"p":"c","x":51.6,"y":250,"a":20,"m":10},{"p":"c","x":54.4,"y":250,"a":30,"m":8},{"p":"c","x":57.2,"y":250,"a":35,"m":6},{"p":"c","x":60,"y":250,"a":30,"m":5},{"p":"c","x":62.8,"y":250,"a":25,"m":4},
{"p":"c","x":26.5,"y":350,"a":330,"m":5},{"p":"c","x":29.3,"y":350,"a":335,"m":6},{"p":"c","x":32.1,"y":350,"a":340,"m":6},{"p":"c","x":43.3,"y":350,"a":340,"m":6},{"p":"c","x":46,"y":350,"a":10,"m":10},{"p":"c","x":48.8,"y":350,"a":15,"m":12},{"p":"c","x":51.6,"y":350,"a":15,"m":14},{"p":"c","x":54.4,"y":350,"a":15,"m":14},{"p":"c","x":57.2,"y":350,"a":10,"m":12},{"p":"c","x":60,"y":350,"a":20,"m":6},{"p":"c","x":62.8,"y":350,"a":20,"m":5},
{"p":"c","x":29.3,"y":500,"a":340,"m":6},{"p":"c","x":43.3,"y":500,"a":5,"m":12},{"p":"c","x":46,"y":500,"a":5,"m":14},{"p":"c","x":48.8,"y":500,"a":5,"m":15},{"p":"c","x":51.6,"y":500,"a":5,"m":16},{"p":"c","x":54.4,"y":500,"a":0,"m":16},{"p":"c","x":57.2,"y":500,"a":0,"m":14},{"p":"c","x":60,"y":500,"a":10,"m":8},{"p":"c","x":62.8,"y":500,"a":20,"m":5},
{"p":"c","x":40.5,"y":700,"a":350,"m":5},{"p":"c","x":43.3,"y":700,"a":10,"m":8},
{"p":"c","x":37.7,"y":850,"a":160,"m":5},{"p":"c","x":43.3,"y":850,"a":5,"m":30},{"p":"c","x":46,"y":850,"a":3,"m":45},{"p":"c","x":48.8,"y":850,"a":3,"m":45},{"p":"c","x":51.6,"y":850,"a":2,"m":48},{"p":"c","x":54.4,"y":850,"a":0,"m":45},{"p":"c","x":57.2,"y":850,"a":0,"m":45},{"p":"c","x":60,"y":850,"a":0,"m":28},{"p":"c","x":62.8,"y":850,"a":0,"m":5},
{"p":"d","x":54.4,"y":50,"a":20,"m":4},{"p":"d","x":57.2,"y":50,"a":20,"m":4},{"p":"d","x":60,"y":50,"a":20,"m":4},
{"p":"d","x":51.6,"y":70,"a":20,"m":5},{"p":"d","x":54.4,"y":70,"a":20,"m":5},{"p":"d","x":57.2,"y":70,"a":20,"m":5},{"p":"d","x":60,"y":70,"a":20,"m":5},{"p":"d","x":62.8,"y":70,"a":20,"m":5},{"p":"d","x":65.6,"y":70,"a":20,"m":4},
{"p":"d","x":51.6,"y":100,"a":20,"m":5},{"p":"d","x":54.4,"y":100,"a":20,"m":5},{"p":"d","x":57.2,"y":100,"a":20,"m":5},{"p":"d","x":60,"y":100,"a":20,"m":5},{"p":"d","x":62.8,"y":100,"a":20,"m":5},{"p":"d","x":65.6,"y":100,"a":20,"m":4},
{"p":"d","x":46,"y":150,"a":30,"m":5},{"p":"d","x":48.8,"y":150,"a":30,"m":5},{"p":"d","x":51.6,"y":150,"a":30,"m":5},{"p":"d","x":54.4,"y":150,"a":30,"m":5},{"p":"d","x":57.2,"y":150,"a":30,"m":5},{"p":"d","x":60,"y":150,"a":30,"m":5},{"p":"d","x":62.8,"y":150,"a":30,"m":5},{"p":"d","x":65.6,"y":150,"a":30,"m":5},{"p":"d","x":68.4,"y":150,"a":45,"m":4},
{"p":"d","x":23.7,"y":250,"a":320,"m":4},{"p":"d","x":26.5,"y":250,"a":320,"m":5},{"p":"d","x":29.3,"y":250,"a":320,"m":5},{"p":"d","x":32.1,"y":250,"a":320,"m":5},{"p":"d","x":40.5,"y":250,"a":345,"m":5},{"p":"d","x":43.3,"y":250,"a":0,"m":7},{"p":"d","x":46,"y":250,"a":10,"m":10},{"p":"d","x":48.8,"y":250,"a":15,"m":12},{"p":"d","x":51.6,"y":250,"a":20,"m":13},{"p":"d","x":54.4,"y":250,"a":25,"m":13},{"p":"d","x":57.2,"y":250,"a":30,"m":12},{"p":"d","x":60,"y":250,"a":45,"m":10},{"p":"d","x":62.8,"y":250,"a":60,"m":10},{"p":"d","x":65.6,"y":250,"a":90,"m":8},{"p":"d","x":68.4,"y":250,"a":105,"m":7},{"p":"d","x":71.2,"y":250,"a":120,"m":6},{"p":"d","x":74,"y":250,"a":140,"m":5},{"p":"d","x":76.7,"y":250,"a":150,"m":4},
{"p":"d","x":20.9,"y":350,"a":330,"m":4},{"p":"d","x":23.7,"y":350,"a":330,"m":5},{"p":"d","x":26.5,"y":350,"a":330,"m":5},{"p":"d","x":29.3,"y":350,"a":330,"m":5},{"p":"d","x":40.5,"y":350,"a":350,"m":6},{"p":"d","x":43.3,"y":350,"a":0,"m":8},{"p":"d","x":46,"y":350,"a":10,"m":12},{"p":"d","x":48.8,"y":350,"a":15,"m":14},{"p":"d","x":51.6,"y":350,"a":20,"m":15},{"p":"d","x":54.4,"y":350,"a":20,"m":15},{"p":"d","x":57.2,"y":350,"a":25,"m":12},{"p":"d","x":60,"y":350,"a":40,"m":8},{"p":"d","x":62.8,"y":350,"a":60,"m":7},{"p":"d","x":65.6,"y":350,"a":100,"m":8},{"p":"d","x":68.4,"y":350,"a":115,"m":8},{"p":"d","x":71.2,"y":350,"a":130,"m":7},{"p":"d","x":74,"y":350,"a":150,"m":6},{"p":"d","x":76.7,"y":350,"a":160,"m":5},
{"p":"d","x":37.7,"y":500,"a":340,"m":5},{"p":"d","x":40.5,"y":500,"a":345,"m":6},{"p":"d","x":43.3,"y":500,"a":5,"m":10},{"p":"d","x":46,"y":500,"a":5,"m":15},{"p":"d","x":48.8,"y":500,"a":5,"m":14},{"p":"d","x":51.6,"y":500,"a":5,"m":16},{"p":"d","x":54.4,"y":500,"a":10,"m":16},{"p":"d","x":57.2,"y":500,"a":15,"m":12},{"p":"d","x":60,"y":500,"a":25,"m":8},{"p":"d","x":62.8,"y":500,"a":50,"m":5},{"p":"d","x":65.6,"y":500,"a":100,"m":6},{"p":"d","x":68.4,"y":500,"a":120,"m":7},{"p":"d","x":71.2,"y":500,"a":140,"m":6},{"p":"d","x":74,"y":500,"a":155,"m":6},{"p":"d","x":76.7,"y":500,"a":160,"m":5},
{"p":"d","x":32.1,"y":700,"a":0,"m":5},{"p":"d","x":34.9,"y":700,"a":0,"m":5},{"p":"d","x":37.7,"y":700,"a":340,"m":6},{"p":"d","x":43.3,"y":700,"a":0,"m":8},{"p":"d","x":65.6,"y":700,"a":150,"m":4},{"p":"d","x":68.4,"y":700,"a":165,"m":5},{"p":"d","x":71.2,"y":700,"a":170,"m":5},{"p":"d","x":74,"y":700,"a":170,"m":5},
{"p":"d","x":34.9,"y":850,"a":0,"m":12},{"p":"d","x":37.7,"y":850,"a":335,"m":12},{"p":"d","x":40.5,"y":850,"a":100,"m":5},{"p":"d","x":43.3,"y":850,"a":3,"m":30},{"p":"d","x":46,"y":850,"a":3,"m":45},{"p":"d","x":48.8,"y":850,"a":3,"m":40},{"p":"d","x":51.6,"y":850,"a":2,"m":32},{"p":"d","x":54.4,"y":850,"a":0,"m":40},{"p":"d","x":57.2,"y":850,"a":0,"m":30},{"p":"d","x":60,"y":850,"a":0,"m":22},{"p":"d","x":65.6,"y":850,"a":175,"m":4},{"p":"d","x":68.4,"y":850,"a":175,"m":5},{"p":"d","x":71.2,"y":850,"a":175,"m":8},{"p":"d","x":74,"y":850,"a":175,"m":7},{"p":"d","x":76.7,"y":850,"a":175,"m":5},
{"p":"e","x":62.8,"y":10,"a":150,"m":4},{"p":"e","x":65.6,"y":10,"a":150,"m":5},{"p":"e","x":68.4,"y":10,"a":150,"m":5},
{"p":"e","x":71.2,"y":20,"a":30,"m":5},{"p":"e","x":74,"y":20,"a":30,"m":5},{"p":"e","x":76.7,"y":20,"a":30,"m":5},
{"p":"e","x":68.4,"y":30,"a":30,"m":5},{"p":"e","x":71.2,"y":30,"a":30,"m":5},{"p":"e","x":74,"y":30,"a":30,"m":5},{"p":"e","x":76.7,"y":30,"a":30,"m":5},
{"p":"e","x":65.6,"y":50,"a":30,"m":5},{"p":"e","x":68.4,"y":50,"a":30,"m":5},{"p":"e","x":71.2,"y":50,"a":30,"m":5},{"p":"e","x":74,"y":50,"a":30,"m":5},
{"p":"e","x":60,"y":70,"a":30,"m":5},{"p":"e","x":62.8,"y":70,"a":30,"m":5},{"p":"e","x":65.6,"y":70,"a":30,"m":5},{"p":"e","x":68.4,"y":70,"a":30,"m":5},{"p":"e","x":71.2,"y":70,"a":30,"m":5},
{"p":"e","x":46,"y":100,"a":60,"m":4},{"p":"e","x":48.8,"y":100,"a":60,"m":4},{"p":"e","x":51.6,"y":100,"a":60,"m":4},{"p":"e","x":54.4,"y":100,"a":60,"m":4},{"p":"e","x":57.2,"y":100,"a":60,"m":4},{"p":"e","x":60,"y":100,"a":60,"m":4},
{"p":"e","x":37.7,"y":150,"a":70,"m":4},{"p":"e","x":40.5,"y":150,"a":65,"m":4},{"p":"e","x":43.3,"y":150,"a":60,"m":5},{"p":"e","x":46,"y":150,"a":60,"m":5},{"p":"e","x":48.8,"y":150,"a":60,"m":5},{"p":"e","x":51.6,"y":150,"a":55,"m":5},{"p":"e","x":54.4,"y":150,"a":50,"m":5},{"p":"e","x":57.2,"y":150,"a":60,"m":5},{"p":"e","x":60,"y":150,"a":70,"m":5},{"p":"e","x":62.8,"y":150,"a":80,"m":4},
{"p":"e","x":1.4,"y":250,"a":270,"m":8},{"p":"e","x":4.2,"y":250,"a":270,"m":5},{"p":"e","x":37.7,"y":250,"a":40,"m":6},{"p":"e","x":40.5,"y":250,"a":25,"m":8},{"p":"e","x":43.3,"y":250,"a":20,"m":8},{"p":"e","x":46,"y":250,"a":20,"m":8},{"p":"e","x":48.8,"y":250,"a":25,"m":10},{"p":"e","x":51.6,"y":250,"a":30,"m":10},{"p":"e","x":54.4,"y":250,"a":40,"m":10},{"p":"e","x":57.2,"y":250,"a":10,"m":14},{"p":"e","x":60,"y":250,"a":70,"m":10},{"p":"e","x":62.8,"y":250,"a":95,"m":10},{"p":"e","x":65.6,"y":250,"a":110,"m":10},{"p":"e","x":68.4,"y":250,"a":140,"m":10},{"p":"e","x":71.2,"y":250,"a":155,"m":9},{"p":"e","x":74,"y":250,"a":165,"m":8},{"p":"e","x":76.7,"y":250,"a":170,"m":6},{"p":"e","x":79.5,"y":250,"a":170,"m":4},
{"p":"e","x":23.7,"y":350,"a":300,"m":4},{"p":"e","x":26.5,"y":350,"a":300,"m":5},{"p":"e","x":32.1,"y":350,"a":20,"m":5},{"p":"e","x":34.9,"y":350,"a":25,"m":6},{"p":"e","x":37.7,"y":350,"a":20,"m":7},{"p":"e","x":40.5,"y":350,"a":20,"m":8},{"p":"e","x":43.3,"y":350,"a":15,"m":9},{"p":"e","x":46,"y":350,"a":10,"m":10},{"p":"e","x":48.8,"y":350,"a":20,"m":12},{"p":"e","x":51.6,"y":350,"a":25,"m":12},{"p":"e","x":54.4,"y":350,"a":30,"m":10},{"p":"e","x":57.2,"y":350,"a":45,"m":8},{"p":"e","x":60,"y":350,"a":70,"m":10},{"p":"e","x":62.8,"y":350,"a":100,"m":12},{"p":"e","x":65.6,"y":350,"a":120,"m":12},{"p":"e","x":68.4,"y":350,"a":145,"m":12},{"p":"e","x":71.2,"y":350,"a":160,"m":10},{"p":"e","x":74,"y":350,"a":165,"m":8},{"p":"e","x":76.7,"y":350,"a":170,"m":5},{"p":"e","x":79.5,"y":350,"a":175,"m":4},
{"p":"e","x":34.9,"y":500,"a":10,"m":6},{"p":"e","x":37.7,"y":500,"a":10,"m":8},{"p":"e","x":40.5,"y":500,"a":10,"m":10},{"p":"e","x":43.3,"y":500,"a":10,"m":12},{"p":"e","x":46,"y":500,"a":5,"m":15},{"p":"e","x":48.8,"y":500,"a":10,"m":14},{"p":"e","x":51.6,"y":500,"a":15,"m":14},{"p":"e","x":54.4,"y":500,"a":25,"m":12},{"p":"e","x":57.2,"y":500,"a":40,"m":8},{"p":"e","x":60,"y":500,"a":60,"m":6},{"p":"e","x":62.8,"y":500,"a":120,"m":8},{"p":"e","x":65.6,"y":500,"a":140,"m":12},{"p":"e","x":68.4,"y":500,"a":155,"m":13},{"p":"e","x":71.2,"y":500,"a":165,"m":13},{"p":"e","x":74,"y":500,"a":170,"m":10},{"p":"e","x":76.7,"y":500,"a":175,"m":7},{"p":"e","x":79.5,"y":500,"a":175,"m":4},
{"p":"e","x":32.1,"y":700,"a":0,"m":5},{"p":"e","x":34.9,"y":700,"a":5,"m":10},{"p":"e","x":37.7,"y":700,"a":330,"m":8},{"p":"e","x":40.5,"y":700,"a":5,"m":10},{"p":"e","x":43.3,"y":700,"a":5,"m":12},{"p":"e","x":46,"y":700,"a":5,"m":20},{"p":"e","x":48.8,"y":700,"a":10,"m":15},{"p":"e","x":51.6,"y":700,"a":10,"m":13},{"p":"e","x":54.4,"y":700,"a":5,"m":10},{"p":"e","x":57.2,"y":700,"a":10,"m":6},{"p":"e","x":60,"y":700,"a":140,"m":5},{"p":"e","x":62.8,"y":700,"a":160,"m":8},{"p":"e","x":65.6,"y":700,"a":170,"m":10},{"p":"e","x":68.4,"y":700,"a":175,"m":12},{"p":"e","x":71.2,"y":700,"a":175,"m":12},{"p":"e","x":74,"y":700,"a":180,"m":10},{"p":"e","x":76.7,"y":700,"a":180,"m":8},{"p":"e","x":79.5,"y":700,"a":180,"m":5},
{"p":"e","x":37.7,"y":850,"a":330,"m":10},{"p":"e","x":40.5,"y":850,"a":150,"m":10},{"p":"e","x":43.3,"y":850,"a":10,"m":8},{"p":"e","x":46,"y":850,"a":0,"m":30},{"p":"e","x":48.8,"y":850,"a":5,"m":35},{"p":"e","x":51.6,"y":850,"a":5,"m":25},{"p":"e","x":54.4,"y":850,"a":0,"m":30},{"p":"e","x":57.2,"y":850,"a":10,"m":6},{"p":"e","x":60,"y":850,"a":180,"m":8},{"p":"e","x":62.8,"y":850,"a":180,"m":20},{"p":"e","x":65.6,"y":850,"a":180,"m":20},{"p":"e","x":68.4,"y":850,"a":180,"m":22},{"p":"e","x":71.2,"y":850,"a":180,"m":20},{"p":"e","x":74,"y":850,"a":180,"m":18},{"p":"e","x":76.7,"y":850,"a":180,"m":12},{"p":"e","x":79.5,"y":850,"a":180,"m":8},
{"p":"f","x":7,"y":150,"a":90,"m":4},{"p":"f","x":9.8,"y":150,"a":90,"m":5},{"p":"f","x":12.6,"y":150,"a":90,"m":5},{"p":"f","x":15.3,"y":150,"a":90,"m":5},{"p":"f","x":18.1,"y":150,"a":90,"m":5},{"p":"f","x":20.9,"y":150,"a":90,"m":4},{"p":"f","x":23.7,"y":150,"a":90,"m":4},{"p":"f","x":26.5,"y":150,"a":90,"m":4},{"p":"f","x":29.3,"y":150,"a":90,"m":4},{"p":"f","x":32.1,"y":150,"a":90,"m":4},{"p":"f","x":34.9,"y":150,"a":90,"m":4},{"p":"f","x":37.7,"y":150,"a":90,"m":4},{"p":"f","x":40.5,"y":150,"a":90,"m":4},{"p":"f","x":46,"y":150,"a":60,"m":4},{"p":"f","x":48.8,"y":150,"a":60,"m":4},{"p":"f","x":51.6,"y":150,"a":60,"m":4},{"p":"f","x":54.4,"y":150,"a":60,"m":4},{"p":"f","x":57.2,"y":150,"a":60,"m":4},{"p":"f","x":60,"y":150,"a":60,"m":4},{"p":"f","x":62.8,"y":150,"a":60,"m":4},
{"p":"f","x":1.4,"y":250,"a":270,"m":19},{"p":"f","x":7,"y":250,"a":90,"m":5},{"p":"f","x":9.8,"y":250,"a":90,"m":5},{"p":"f","x":12.6,"y":250,"a":90,"m":5},{"p":"f","x":15.3,"y":250,"a":90,"m":5},{"p":"f","x":18.1,"y":250,"a":90,"m":5},{"p":"f","x":20.9,"y":250,"a":90,"m":5},{"p":"f","x":23.7,"y":250,"a":90,"m":5},{"p":"f","x":26.5,"y":250,"a":90,"m":5},{"p":"f","x":34.9,"y":250,"a":70,"m":5},{"p":"f","x":37.7,"y":250,"a":70,"m":5},{"p":"f","x":40.5,"y":250,"a":70,"m":5},{"p":"f","x":43.3,"y":250,"a":70,"m":5},{"p":"f","x":46,"y":250,"a":70,"m":5},{"p":"f","x":48.8,"y":250,"a":60,"m":6},{"p":"f","x":51.6,"y":250,"a":60,"m":6},{"p":"f","x":54.4,"y":250,"a":75,"m":6},{"p":"f","x":57.2,"y":250,"a":90,"m":8},{"p":"f","x":60,"y":250,"a":90,"m":18},{"p":"f","x":62.8,"y":250,"a":110,"m":12},{"p":"f","x":65.6,"y":250,"a":140,"m":8},{"p":"f","x":68.4,"y":250,"a":150,"m":10},{"p":"f","x":71.2,"y":250,"a":160,"m":9},{"p":"f","x":74,"y":250,"a":165,"m":7},{"p":"f","x":76.7,"y":250,"a":170,"m":6},{"p":"f","x":79.5,"y":250,"a":170,"m":4},
{"p":"f","x":1.4,"y":350,"a":270,"m":12},{"p":"f","x":34.9,"y":350,"a":20,"m":5},{"p":"f","x":37.7,"y":350,"a":25,"m":6},{"p":"f","x":40.5,"y":350,"a":30,"m":6},{"p":"f","x":43.3,"y":350,"a":25,"m":7},{"p":"f","x":46,"y":350,"a":20,"m":8},{"p":"f","x":48.8,"y":350,"a":30,"m":8},{"p":"f","x":51.6,"y":350,"a":45,"m":8},{"p":"f","x":54.4,"y":350,"a":70,"m":8},{"p":"f","x":57.2,"y":350,"a":90,"m":10},{"p":"f","x":60,"y":350,"a":110,"m":14},{"p":"f","x":62.8,"y":350,"a":130,"m":14},{"p":"f","x":65.6,"y":350,"a":150,"m":14},{"p":"f","x":68.4,"y":350,"a":160,"m":13},{"p":"f","x":71.2,"y":350,"a":165,"m":11},{"p":"f","x":74,"y":350,"a":170,"m":8},{"p":"f","x":76.7,"y":350,"a":170,"m":6},{"p":"f","x":79.5,"y":350,"a":175,"m":4},
{"p":"f","x":32.1,"y":500,"a":150,"m":5},{"p":"f","x":37.7,"y":500,"a":15,"m":6},{"p":"f","x":40.5,"y":500,"a":15,"m":6},{"p":"f","x":43.3,"y":500,"a":15,"m":6},{"p":"f","x":46,"y":500,"a":15,"m":6},{"p":"f","x":51.6,"y":500,"a":40,"m":8},{"p":"f","x":54.4,"y":500,"a":70,"m":8},{"p":"f","x":57.2,"y":500,"a":90,"m":10},{"p":"f","x":60,"y":500,"a":120,"m":12},{"p":"f","x":62.8,"y":500,"a":145,"m":14},{"p":"f","x":65.6,"y":500,"a":155,"m":16},{"p":"f","x":68.4,"y":500,"a":165,"m":16},{"p":"f","x":71.2,"y":500,"a":170,"m":14},{"p":"f","x":74,"y":500,"a":175,"m":12},{"p":"f","x":76.7,"y":500,"a":175,"m":8},{"p":"f","x":79.5,"y":500,"a":175,"m":5},
{"p":"f","x":32.1,"y":700,"a":180,"m":8},{"p":"f","x":37.7,"y":700,"a":160,"m":12},{"p":"f","x":40.5,"y":700,"a":0,"m":10},{"p":"f","x":46,"y":700,"a":5,"m":12},{"p":"f","x":48.8,"y":700,"a":0,"m":10},{"p":"f","x":51.6,"y":700,"a":10,"m":8},{"p":"f","x":54.4,"y":700,"a":20,"m":6},{"p":"f","x":57.2,"y":700,"a":150,"m":6},{"p":"f","x":60,"y":700,"a":160,"m":10},{"p":"f","x":62.8,"y":700,"a":165,"m":14},{"p":"f","x":65.6,"y":700,"a":170,"m":16},{"p":"f","x":68.4,"y":700,"a":175,"m":16},{"p":"f","x":71.2,"y":700,"a":175,"m":14},{"p":"f","x":74,"y":700,"a":178,"m":12},{"p":"f","x":76.7,"y":700,"a":180,"m":8},{"p":"f","x":79.5,"y":700,"a":180,"m":5},
{"p":"f","x":37.7,"y":850,"a":150,"m":10},{"p":"f","x":40.5,"y":850,"a":160,"m":25},{"p":"f","x":46,"y":850,"a":0,"m":10},{"p":"f","x":48.8,"y":850,"a":0,"m":8},{"p":"f","x":51.6,"y":850,"a":180,"m":10},{"p":"f","x":54.4,"y":850,"a":180,"m":12},{"p":"f","x":57.2,"y":850,"a":180,"m":15},{"p":"f","x":60,"y":850,"a":180,"m":20},{"p":"f","x":62.8,"y":850,"a":180,"m":30},{"p":"f","x":65.6,"y":850,"a":180,"m":28},{"p":"f","x":68.4,"y":850,"a":180,"m":22},{"p":"f","x":71.2,"y":850,"a":180,"m":18},{"p":"f","x":74,"y":850,"a":180,"m":12},{"p":"f","x":76.7,"y":850,"a":180,"m":8},{"p":"f","x":79.5,"y":850,"a":180,"m":5}
]},
"facet":{"field":"p","type":"nominal","title":null,"header":{"labels":false,"title":null,"labelPadding":0,"labelFontSize":0,"labelExpr":"''"}},
"spec":{
"width":351,"height":368,
"layer":[
{"transform":[{"filter":"datum.s=='l'"}],
 "mark":{"type":"line","filled":true,"fill":"#dadada","color":"#dadada","strokeOpacity":0},
 "encoding":{
  "x":{"field":"x","type":"quantitative","scale":{"domain":[0,90],"nice":false,"zero":false},
       "axis":{"orient":"bottom","values":[0,10,20,30,40,50,60,70,80,90],"format":"d","tickSize":-7,"labelPadding":11,"labelFlush":false,"labelOverlap":false,"title":null}},
  "y":{"field":"y","type":"quantitative","scale":{"type":"log","domain":[6.3,1270],"reverse":true,"nice":false},
       "axis":{"orient":"left","values":[10,20,50,100,200,500,1000],"format":"d","tickSize":-7,"labelPadding":9,"labelOverlap":false,"title":"Pressure Level (hPa)","titleX":-31}},
  "detail":{"field":"g"},
  "order":{"value":null}}},
{"transform":[{"filter":"datum.s=='d'"}],
 "mark":{"type":"line","filled":true,"fill":"#a9a9a9","color":"#a9a9a9","strokeOpacity":0},
 "encoding":{
  "x":{"field":"x","type":"quantitative","axis":{"orient":"top","values":[0,10,20,30,40,50,60,70,80,90],"tickSize":-7,"labels":false,"title":null}},
  "y":{"field":"y","type":"quantitative","axis":{"orient":"right","values":[10,20,50,100,200,500,1000],"tickSize":-7,"labels":false,"title":null}},
  "detail":{"field":"g"},
  "order":{"value":null}}},
{"transform":[{"filter":"isValid(datum.lev)"}],
 "mark":{"type":"rule","strokeDash":[0.01,10.868],"strokeCap":"round","strokeWidth":2.3,"color":"#222222"},
 "encoding":{
  "x":{"datum":1.3953,"type":"quantitative","axis":null},
  "x2":{"datum":87.8638},
  "y":{"field":"lev","type":"quantitative","axis":null}}},
{"transform":[{"filter":"isValid(datum.m)"}],
 "mark":{"type":"point","shape":"M0,0L0,-1M-0.12,-0.84L0,-1L0.12,-0.84","filled":false,"stroke":"black","strokeWidth":1.8,"opacity":1,"strokeCap":"round","strokeJoin":"round"},
 "encoding":{
  "x":{"field":"x","type":"quantitative","axis":null},
  "y":{"field":"y","type":"quantitative","axis":null},
  "angle":{"field":"a","type":"quantitative","scale":{"domain":[0,360],"range":[0,360]},"legend":null},
  "size":{"field":"m","type":"quantitative","scale":{"type":"pow","exponent":2,"domain":[0,50],"range":[0,10000]},"legend":null}}},
{"transform":[{"filter":"datum.c=='s'"}],
 "mark":{"type":"line","color":"black","strokeWidth":2.6},
 "encoding":{
  "x":{"field":"x","type":"quantitative","axis":null},
  "y":{"field":"y","type":"quantitative","axis":null},
  "detail":{"field":"g"},
  "order":{"value":null}}},
{"transform":[{"filter":"datum.c=='d'"}],
 "mark":{"type":"line","color":"black","strokeWidth":2.6,"strokeDash":[9,6]},
 "encoding":{
  "x":{"field":"x","type":"quantitative","axis":null},
  "y":{"field":"y","type":"quantitative","axis":null},
  "detail":{"field":"g"},
  "order":{"value":null}}},
{"transform":[{"filter":"isValid(datum.title)"}],
 "mark":{"type":"text","align":"left","baseline":"alphabetic","font":"DejaVu Sans","fontSize":19,"color":"black"},
 "encoding":{
  "x":{"field":"x","type":"quantitative","axis":null},
  "y":{"field":"y","type":"quantitative","axis":null},
  "text":{"field":"title"}}},
{"transform":[{"filter":"isValid(datum.xl)"}],
 "mark":{"type":"text","align":"center","baseline":"middle","font":"Liberation Sans","fontSize":11.5,"fontWeight":"bold","color":"black"},
 "encoding":{
  "x":{"field":"x","type":"quantitative","axis":null},
  "y":{"field":"y","type":"quantitative","axis":null},
  "text":{"field":"xl"}}},
{"transform":[{"filter":"isValid(datum.note)"}],
 "mark":{"type":"text","align":"left","baseline":"alphabetic","font":"DejaVu Sans","fontSize":13,"color":"black"},
 "encoding":{
  "x":{"field":"x","type":"quantitative","axis":null},
  "y":{"field":"y","type":"quantitative","axis":null},
  "text":{"field":"note"}}},
{"transform":[{"filter":"isValid(datum.clab)"}],
 "mark":{"type":"text","align":"center","baseline":"middle","font":"DejaVu Sans","fontSize":15,"angle":90,"color":"black"},
 "encoding":{
  "x":{"field":"x","type":"quantitative","axis":null},
  "y":{"field":"y","type":"quantitative","axis":null},
  "text":{"field":"clab"}}}
],
"resolve":{"axis":{"x":"independent","y":"independent"}}
},
"resolve":{"axis":{"x":"independent","y":"independent"}},
"config":{
 "view":{"stroke":"black","strokeWidth":1.6},
 "header":{"labels":false,"title":null,"labelPadding":0,"labelFontSize":0,"labelExpr":"''"},
 "headerFacet":{"labels":false,"title":null,"labelPadding":0,"labelFontSize":0,"labelExpr":"''"},
 "axis":{"domain":false,"grid":false,"tickColor":"black","tickWidth":1.3,"labelColor":"black","titleColor":"black","labelFont":"Liberation Sans","labelFontSize":13,"labelFontWeight":"bold","titleFont":"Liberation Sans","titleFontSize":11.5,"titleFontWeight":"bold"}
}
}
